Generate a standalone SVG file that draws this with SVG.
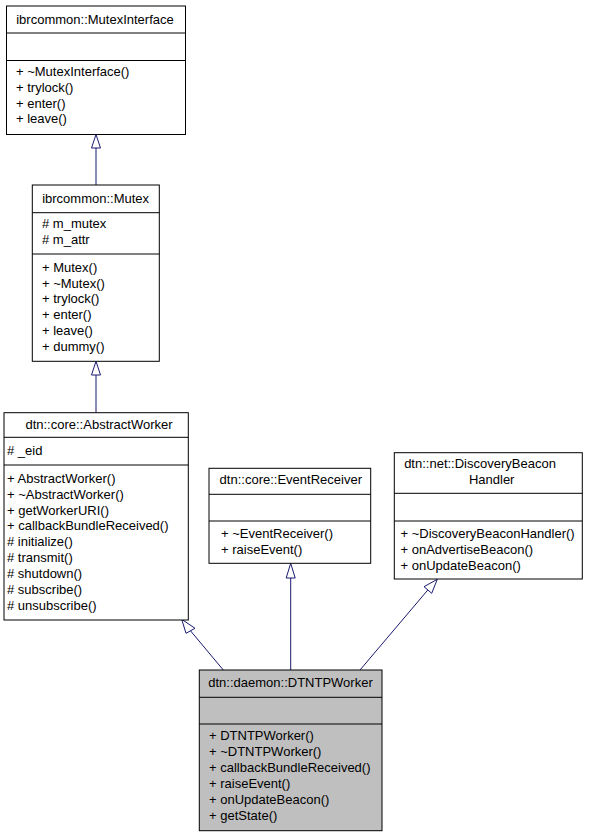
<svg xmlns="http://www.w3.org/2000/svg" width="595" height="837" viewBox="0 0 595 837">
<style>
.box{fill:#ffffff;stroke:#000000;stroke-width:1}
.sel{fill:#bfbfbf;stroke:#000000;stroke-width:1}
.div{stroke:#000000;stroke-width:1}
text{font-family:"Liberation Sans",Arial,sans-serif;font-size:13px;fill:#000000}
.c{text-anchor:middle}
.edge{stroke:#191970;stroke-width:1;fill:none}
.head{fill:#ffffff;stroke:#191970;stroke-width:1}
</style>
<rect width="595" height="837" fill="#ffffff"/>
<g id="connectors">
<line class="edge" x1="96" y1="185" x2="96" y2="148"/>
<polygon class="head" points="96,134.5 91.5,148 100.5,148"/>
<line class="edge" x1="96" y1="412.7" x2="96" y2="375"/>
<polygon class="head" points="96,361.3 91.5,375 100.5,375"/>
<line class="edge" x1="290.7" y1="670" x2="290.7" y2="578"/>
<polygon class="head" points="290.7,563.3 286.2,578 295.2,578"/>
<line class="edge" x1="223.3" y1="670" x2="190.5" y2="630.8"/>
<polygon class="head" points="181.7,619.3 186,633.3 195,628.3"/>
<line class="edge" x1="360" y1="670" x2="427.8" y2="590"/>
<polygon class="head" points="437.3,579.3 424,586.7 431.7,593.3"/>
</g>
<g id="MutexInterface">
<rect class="box" x="6.5" y="6" width="179" height="128.5"/>
<line class="div" x1="6.5" y1="33" x2="185.5" y2="33"/>
<line class="div" x1="6.5" y1="60.5" x2="185.5" y2="60.5"/>
<text class="c" x="95" y="23.5">ibrcommon::MutexInterface</text>
<text x="16" y="76">+ ~MutexInterface()</text>
<text x="16" y="91.8">+ trylock()</text>
<text x="16" y="107.6">+ enter()</text>
<text x="16" y="123.4">+ leave()</text>
</g>
<g id="Mutex">
<rect class="box" x="32.3" y="185" width="127" height="176.3"/>
<line class="div" x1="32.3" y1="212.7" x2="159.3" y2="212.7"/>
<line class="div" x1="32.3" y1="254" x2="159.3" y2="254"/>
<text class="c" x="95.6" y="202.7">ibrcommon::Mutex</text>
<text x="42" y="227.7"># m_mutex</text>
<text x="42" y="243.9"># m_attr</text>
<text x="42" y="271.7">+ Mutex()</text>
<text x="42" y="287.5">+ ~Mutex()</text>
<text x="42" y="303.3">+ trylock()</text>
<text x="42" y="319.1">+ enter()</text>
<text x="42" y="334.9">+ leave()</text>
<text x="42" y="350.7">+ dummy()</text>
</g>
<g id="AbstractWorker">
<rect class="box" x="4" y="412.7" width="184.3" height="207.3"/>
<line class="div" x1="4" y1="437.3" x2="188.3" y2="437.3"/>
<line class="div" x1="4" y1="465" x2="188.3" y2="465"/>
<text class="c" x="99" y="429.3">dtn::core::AbstractWorker</text>
<text x="7" y="455"># _eid</text>
<text x="7" y="482.7">+ AbstractWorker()</text>
<text x="7" y="498.6">+ ~AbstractWorker()</text>
<text x="7" y="514.5">+ getWorkerURI()</text>
<text x="7" y="530.4">+ callbackBundleReceived()</text>
<text x="7" y="546.3"># initialize()</text>
<text x="7" y="562.2"># transmit()</text>
<text x="7" y="578.1"># shutdown()</text>
<text x="7" y="594"># subscribe()</text>
<text x="7" y="609.9"># unsubscribe()</text>
</g>
<g id="EventReceiver">
<rect class="box" x="209" y="468.3" width="161.7" height="95"/>
<line class="div" x1="209" y1="494.3" x2="370.7" y2="494.3"/>
<line class="div" x1="209" y1="521" x2="370.7" y2="521"/>
<text class="c" x="290.8" y="484.3">dtn::core::EventReceiver</text>
<text x="221" y="538.3">+ ~EventReceiver()</text>
<text x="221" y="554">+ raiseEvent()</text>
</g>
<g id="DiscoveryBeaconHandler">
<rect class="box" x="394.3" y="452.7" width="188" height="126.3"/>
<line class="div" x1="394.3" y1="493.3" x2="582.3" y2="493.3"/>
<line class="div" x1="394.3" y1="521" x2="582.3" y2="521"/>
<text class="c" x="480" y="468.3">dtn::net::DiscoveryBeacon</text>
<text class="c" x="491.7" y="484.3">Handler</text>
<text x="400.5" y="538.3">+ ~DiscoveryBeaconHandler()</text>
<text x="400.5" y="554">+ onAdvertiseBeacon()</text>
<text x="400.5" y="569.7">+ onUpdateBeacon()</text>
</g>
<g id="DTNTPWorker">
<rect class="sel" x="199.3" y="670" width="182.7" height="160.7"/>
<line class="div" x1="199.3" y1="697.3" x2="382" y2="697.3"/>
<line class="div" x1="199.3" y1="724" x2="382" y2="724"/>
<text class="c" x="290.5" y="687.3">dtn::daemon::DTNTPWorker</text>
<text x="209" y="740">+ DTNTPWorker()</text>
<text x="209" y="755.9">+ ~DTNTPWorker()</text>
<text x="209" y="771.8">+ callbackBundleReceived()</text>
<text x="209" y="787.7">+ raiseEvent()</text>
<text x="209" y="803.6">+ onUpdateBeacon()</text>
<text x="209" y="819.5">+ getState()</text>
</g>
</svg>
